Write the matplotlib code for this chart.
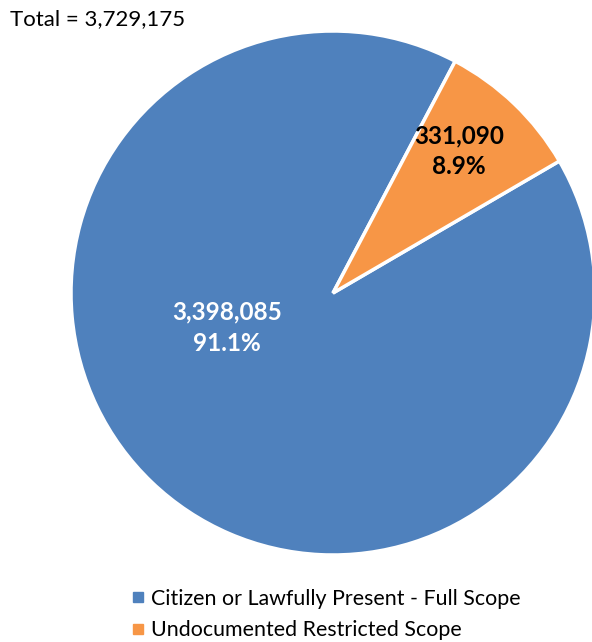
import matplotlib
matplotlib.use("Agg")
import matplotlib.pyplot as plt
from matplotlib.lines import Line2D

categories = ["Citizen or Lawfully Present - Full Scope", "Undocumented Restricted Scope"]
values = [3398085, 331090]
colors = ["#4F81BD", "#F79646"]
total = sum(values)

plt.rcParams['font.family'] = ['Lato', 'DejaVu Sans']

W, H = 592, 642
fig = plt.figure(figsize=(W / 100, H / 100), dpi=100)
ax = fig.add_axes([0, 0, 1, 1])
ax.pie(values, colors=colors, startangle=62.2, counterclock=True,
       center=(333, H - 293), radius=262,
       wedgeprops=dict(edgecolor="white", linewidth=2.5))
ax.set_xlim(0, W)
ax.set_ylim(0, H)
ax.set_aspect('equal')
ax.axis('off')

pcts = [v / total * 100 for v in values]
ax.text(227, H - 328, f"{values[0]:,}\n{pcts[0]:.1f}%", color="white",
        fontsize=17.5, fontweight="bold", ha="center", va="center", linespacing=1.45)
ax.text(459, H - 151, f"{values[1]:,}\n{pcts[1]:.1f}%", color="black",
        fontsize=17.5, fontweight="bold", ha="center", va="center", linespacing=1.4)

fig.text(10 / W, 1 - 19 / H, f"Total = {total:,}", fontsize=16, ha="left", va="center")

handles = [Line2D([], [], marker="s", linestyle="none", markersize=6.5,
                  markerfacecolor=c, markeredgecolor=c) for c in colors]
fig.legend(handles, categories, loc="upper left", bbox_to_anchor=(117 / W, 1 - 578 / H),
           frameon=False, fontsize=15.4, handletextpad=0.1, labelspacing=0.55,
           handlelength=1.0, borderpad=0)

fig.savefig("out.png", dpi=100)
